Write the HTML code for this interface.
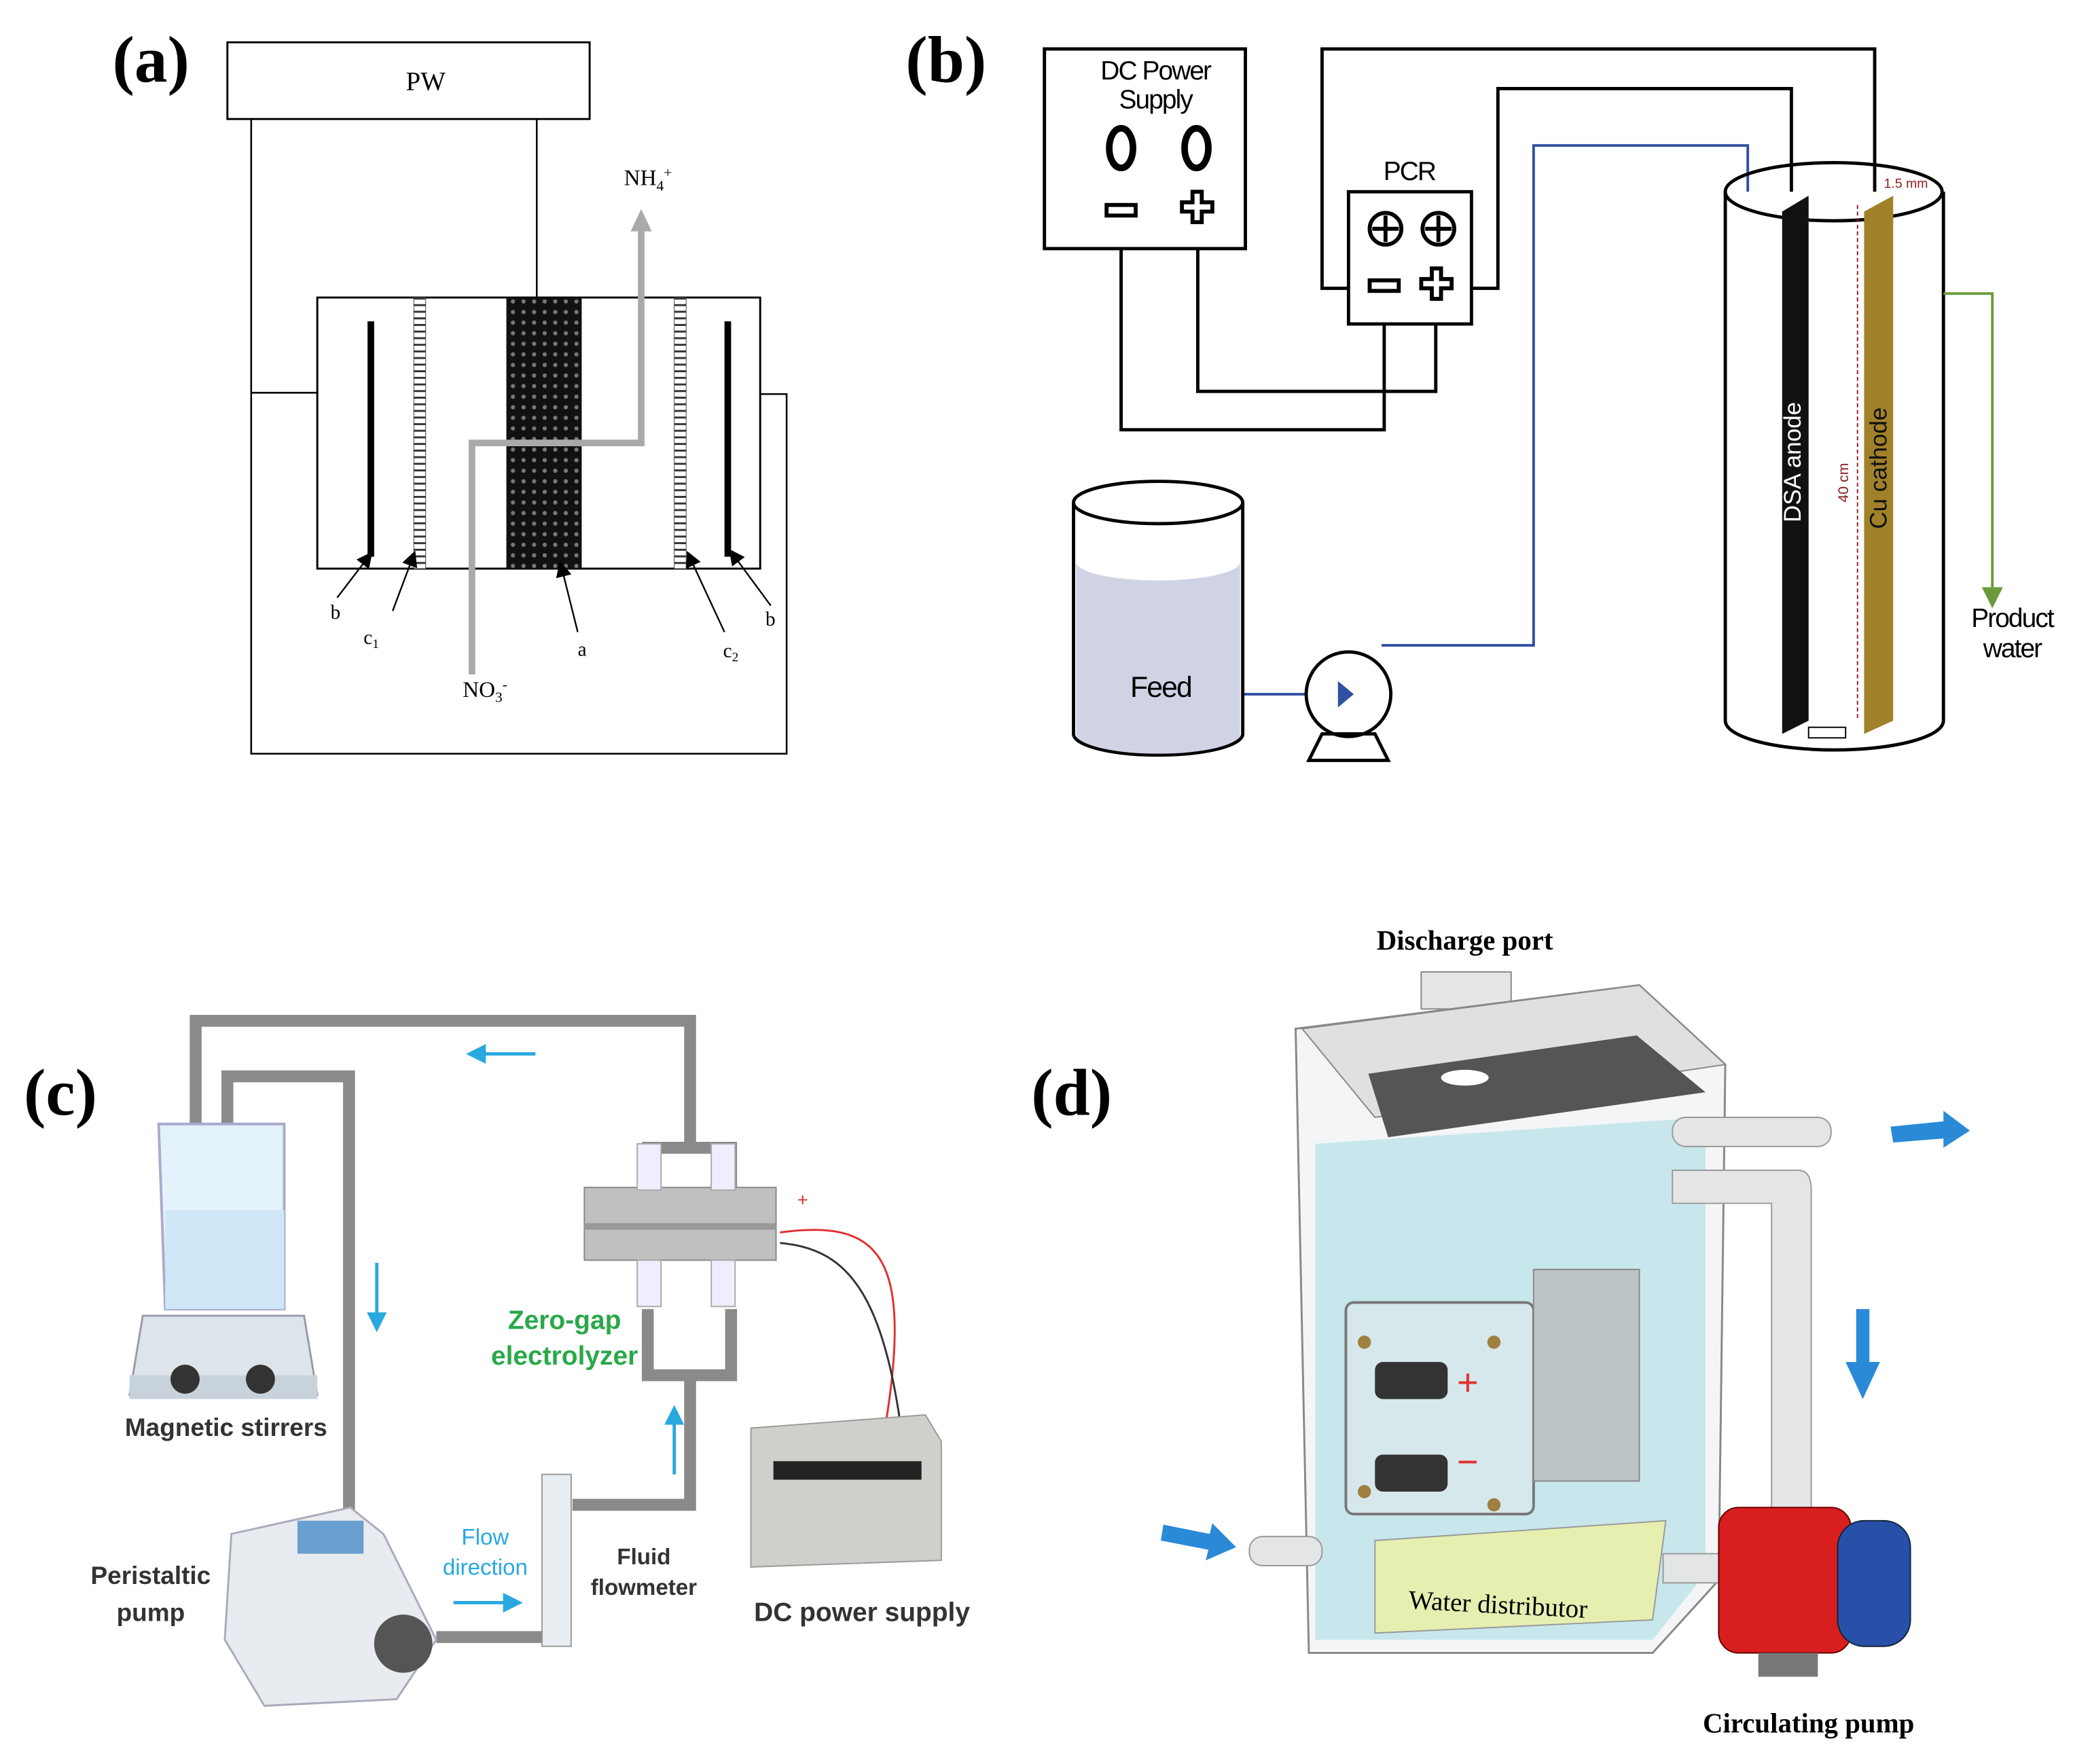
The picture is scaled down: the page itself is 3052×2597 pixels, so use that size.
<!DOCTYPE html>
<html><head><meta charset="utf-8"><style>
html,body{margin:0;padding:0;background:#fff;}
svg{display:block;}
</style></head><body>
<svg width="3052" height="2597" viewBox="0 0 1568 1334" preserveAspectRatio="none" xmlns="http://www.w3.org/2000/svg" font-family="Liberation Sans, sans-serif">
<defs>
<pattern id="hex" width="8" height="8" patternUnits="userSpaceOnUse"><rect width="8" height="8" fill="#111"/><circle cx="4" cy="4" r="1.6" fill="#777"/></pattern>
<pattern id="strip" width="4" height="5" patternUnits="userSpaceOnUse"><rect width="4" height="5" fill="#fff"/><rect y="0" width="4" height="1.5" fill="#333"/></pattern>
<marker id="ah" markerWidth="10" markerHeight="10" refX="5" refY="5" orient="auto"><path d="M0,0 L10,5 L0,10 z" fill="#000"/></marker>
<marker id="ahb" markerWidth="8" markerHeight="8" refX="4" refY="4" orient="auto"><path d="M0,0 L8,4 L0,8 z" fill="#3050a0"/></marker>
<marker id="ahg" markerWidth="8" markerHeight="8" refX="4" refY="4" orient="auto"><path d="M0,0 L8,4 L0,8 z" fill="#6a9a3a"/></marker>
<marker id="ahc" markerWidth="6" markerHeight="6" refX="3" refY="3" orient="auto"><path d="M0,0 L6,3 L0,6 z" fill="#29a8e0"/></marker>
</defs>

<!-- Panel a -->
<text x="85" y="62" font-family="Liberation Serif, serif" font-weight="bold" font-size="50">(a)</text>
<rect x="172" y="32" width="274" height="58" fill="#fff" stroke="#000" stroke-width="1.5"/>
<text x="322" y="68" font-family="Liberation Serif, serif" font-size="20" text-anchor="middle">PW</text>
<polyline points="190,90 190,570 595,570 595,298 560,298" fill="none" stroke="#000" stroke-width="1.3"/>
<line x1="190" y1="297" x2="270" y2="297" stroke="#000" stroke-width="1.3"/>
<line x1="406" y1="90" x2="406" y2="225" stroke="#000" stroke-width="1.3"/>
<rect x="240" y="225" width="335" height="205" fill="#fff" stroke="#000" stroke-width="1.5"/>
<rect x="383" y="225" width="57" height="205" fill="url(#hex)"/>
<rect x="313" y="225" width="9" height="205" fill="url(#strip)" stroke="#444" stroke-width="0.5"/>
<rect x="510" y="225" width="9" height="205" fill="url(#strip)" stroke="#444" stroke-width="0.5"/>
<rect x="278" y="243" width="5" height="178" fill="#000"/>
<rect x="548" y="243" width="5" height="178" fill="#000"/>
<polyline points="357,510 357,335 485,335 485,170" fill="none" stroke="#aaa" stroke-width="5"/>
<path d="M477,175 L485,158 L493,175 z" fill="#aaa"/>
<text x="472" y="140" font-family="Liberation Serif, serif" font-size="17">NH<tspan font-size="11" dy="4">4</tspan><tspan font-size="11" dy="-10">+</tspan></text>
<text x="350" y="527" font-family="Liberation Serif, serif" font-size="17">NO<tspan font-size="11" dy="4">3</tspan><tspan font-size="11" dy="-10">-</tspan></text>
<g stroke="#000" stroke-width="1.2" fill="none">
<line x1="255" y1="452" x2="278" y2="422" marker-end="url(#ah)"/>
<line x1="297" y1="462" x2="312" y2="422" marker-end="url(#ah)"/>
<line x1="437" y1="478" x2="425" y2="430" marker-end="url(#ah)"/>
<line x1="548" y1="478" x2="522" y2="422" marker-end="url(#ah)"/>
<line x1="583" y1="458" x2="555" y2="420" marker-end="url(#ah)"/>
</g>
<g font-family="Liberation Serif, serif" font-size="15">
<text x="250" y="468">b</text><text x="275" y="487">c<tspan font-size="10" dy="3">1</tspan></text>
<text x="437" y="496">a</text><text x="547" y="497">c<tspan font-size="10" dy="3">2</tspan></text><text x="579" y="473">b</text>
</g>

<!-- Panel b -->
<text x="685" y="62" font-family="Liberation Serif, serif" font-weight="bold" font-size="50">(b)</text>
<rect x="790" y="37" width="152" height="151" fill="#fff" stroke="#000" stroke-width="2.5"/>
<text x="874" y="60" font-size="20" text-anchor="middle" letter-spacing="-1">DC Power</text>
<text x="874" y="82" font-size="20" text-anchor="middle" letter-spacing="-1">Supply</text>
<ellipse cx="848" cy="112" rx="9" ry="15" fill="none" stroke="#000" stroke-width="5"/>
<ellipse cx="905" cy="112" rx="9" ry="15" fill="none" stroke="#000" stroke-width="5"/>
<rect x="837" y="155" width="22" height="8" fill="none" stroke="#000" stroke-width="3"/>
<path d="M902,145 h7 v8 h8 v7 h-8 v8 h-7 v-8 h-8 v-7 h8 z" fill="none" stroke="#000" stroke-width="3"/>
<rect x="1020" y="145" width="93" height="100" fill="#fff" stroke="#000" stroke-width="2.5"/>
<text x="1066" y="136" font-size="20" text-anchor="middle" letter-spacing="-1">PCR</text>
<circle cx="1048" cy="173" r="12" fill="none" stroke="#000" stroke-width="3"/><path d="M1048,163v20M1038,173h20" stroke="#000" stroke-width="3"/>
<circle cx="1088" cy="173" r="12" fill="none" stroke="#000" stroke-width="3"/><path d="M1088,163v20M1078,173h20" stroke="#000" stroke-width="3"/>
<rect x="1036" y="212" width="22" height="8" fill="none" stroke="#000" stroke-width="3"/>
<path d="M1083,203 h7 v8 h8 v7 h-8 v8 h-7 v-8 h-8 v-7 h8 z" fill="none" stroke="#000" stroke-width="3"/>
<g fill="none" stroke="#000" stroke-width="2.5">
<polyline points="848,188 848,325 1047,325 1047,245"/>
<polyline points="906,188 906,296 1086,296 1086,245"/>
<polyline points="1020,218 1000,218 1000,37 1418,37 1418,150"/>
<polyline points="1113,218 1133,218 1133,67 1355,67 1355,150"/>
</g>
<polyline points="1045,488 1160,488 1160,110 1322,110 1322,532" fill="none" stroke="#3050a0" stroke-width="2" marker-end="url(#ahb)"/>
<line x1="940" y1="525" x2="1010" y2="525" stroke="#3050a0" stroke-width="2"/>
<!-- tank -->
<path d="M1305,145 L1305,545 A82,22 0 0 0 1470,545 L1470,145" fill="#fff" stroke="#000" stroke-width="2.5"/>
<ellipse cx="1387" cy="145" rx="82" ry="22" fill="none" stroke="#000" stroke-width="2.5"/>
<path d="M1348,160 L1368,148 L1368,545 L1348,555 z" fill="#111"/>
<path d="M1410,160 L1432,148 L1432,545 L1410,555 z" fill="#a0812a"/>
<text transform="translate(1362,395) rotate(-90)" font-size="18" fill="#fff">DSA anode</text>
<text transform="translate(1427,400) rotate(-90)" font-size="18" fill="#111">Cu cathode</text>
<text transform="translate(1398,380) rotate(-90)" font-size="11" fill="#8a2020">40 cm</text>
<line x1="1405" y1="155" x2="1405" y2="545" stroke="#8a2020" stroke-dasharray="3,2"/>
<text x="1425" y="142" font-size="10" fill="#8a2020">1.5 mm</text>
<rect x="1368" y="550" width="28" height="8" fill="#fff" stroke="#000"/>
<polyline points="1470,222 1507,222 1507,452" fill="none" stroke="#6a9a3a" stroke-width="2" marker-end="url(#ahg)"/>
<text x="1522" y="474" font-size="20" text-anchor="middle" letter-spacing="-1">Product</text>
<text x="1522" y="497" font-size="20" text-anchor="middle" letter-spacing="-1">water</text>
<!-- feed -->
<path d="M812,380 L812,555 A64,16 0 0 0 940,555 L940,380" fill="#fff" stroke="#000" stroke-width="2.5"/>
<path d="M814,425 A62,14 0 0 0 938,425 L938,555 A62,15 0 0 1 814,555 z" fill="#cfd3e4"/>
<ellipse cx="876" cy="380" rx="64" ry="16" fill="none" stroke="#000" stroke-width="2.5"/>
<text x="878" y="527" font-size="22" text-anchor="middle" letter-spacing="-1">Feed</text>
<circle cx="1020" cy="525" r="32" fill="#fff" stroke="#000" stroke-width="2.5"/>
<path d="M1012,515 L1024,525 L1012,535 z" fill="#3050a0"/>
<path d="M990,575 L1000,555 L1040,555 L1050,575 z" fill="none" stroke="#000" stroke-width="2.5"/>

<!-- Panel c -->
<text x="18" y="843" font-family="Liberation Serif, serif" font-weight="bold" font-size="50">(c)</text>
<g fill="none" stroke="#8a8a8a" stroke-width="9">
<polyline points="148,900 148,772 522,772 522,865"/>
<polyline points="172,940 172,814 264,814 264,1225"/>
<polyline points="490,915 490,868 553,868 553,915"/>
<polyline points="490,990 490,1040 553,1040 553,990"/>
<polyline points="522,1040 522,1138 433,1138"/>
<polyline points="330,1238 410,1238"/>
</g>
<line x1="405" y1="797" x2="360" y2="797" stroke="#29a8e0" stroke-width="2.5" marker-end="url(#ahc)"/>
<line x1="285" y1="955" x2="285" y2="1000" stroke="#29a8e0" stroke-width="2.5" marker-end="url(#ahc)"/>
<line x1="510" y1="1115" x2="510" y2="1070" stroke="#29a8e0" stroke-width="2.5" marker-end="url(#ahc)"/>
<line x1="343" y1="1212" x2="388" y2="1212" stroke="#29a8e0" stroke-width="2.5" marker-end="url(#ahc)"/>
<!-- beaker & stirrer -->
<path d="M120,850 L215,850 L215,990 L125,990 z" fill="#e4f2fb" stroke="#aac" stroke-width="2"/>
<rect x="125" y="915" width="90" height="75" fill="#cfe7f7"/>
<path d="M108,995 L230,995 L240,1055 L98,1055 z" fill="#dde4ea" stroke="#99a" stroke-width="1.5"/>
<rect x="98" y="1040" width="142" height="18" fill="#c8d2db"/>
<circle cx="140" cy="1043" r="11" fill="#333"/><circle cx="197" cy="1043" r="11" fill="#333"/>
<text x="171" y="1086" font-size="19" font-weight="bold" fill="#333" text-anchor="middle">Magnetic stirrers</text>
<!-- electrolyzer -->
<rect x="442" y="898" width="145" height="55" fill="#c0c0c0" stroke="#888"/>
<rect x="442" y="925" width="145" height="5" fill="#999"/>
<rect x="482" y="865" width="18" height="35" fill="#eef" stroke="#aaa"/><rect x="538" y="865" width="18" height="35" fill="#eef" stroke="#aaa"/>
<rect x="482" y="953" width="18" height="35" fill="#eef" stroke="#aaa"/><rect x="538" y="953" width="18" height="35" fill="#eef" stroke="#aaa"/>
<path d="M590,932 C680,920 700,960 650,1175" fill="none" stroke="#e03030" stroke-width="1.5"/>
<path d="M590,940 C650,945 680,990 690,1175" fill="none" stroke="#333" stroke-width="1.5"/>
<text x="603" y="912" font-size="14" fill="#e03030">+</text>
<text x="427" y="1005" font-size="20" font-weight="bold" fill="#2aa84a" text-anchor="middle">Zero-gap</text>
<text x="427" y="1032" font-size="20" font-weight="bold" fill="#2aa84a" text-anchor="middle">electrolyzer</text>
<!-- DC supply -->
<path d="M568,1080 L700,1070 L712,1090 L712,1180 L568,1185 z" fill="#cfd0cc" stroke="#999"/>
<rect x="585" y="1105" width="112" height="14" fill="#222"/>
<text x="652" y="1226" font-size="20" font-weight="bold" fill="#333" text-anchor="middle">DC power supply</text>
<!-- flowmeter -->
<rect x="410" y="1115" width="22" height="130" fill="#e8eef2" stroke="#999"/>
<text x="487" y="1183" font-size="17" font-weight="bold" fill="#333" text-anchor="middle">Fluid</text>
<text x="487" y="1206" font-size="17" font-weight="bold" fill="#333" text-anchor="middle">flowmeter</text>
<text x="367" y="1168" font-size="17" fill="#29a8e0" text-anchor="middle">Flow</text>
<text x="367" y="1191" font-size="17" fill="#29a8e0" text-anchor="middle">direction</text>
<!-- pump -->
<path d="M175,1160 L265,1140 L290,1160 L330,1240 L300,1285 L200,1290 L170,1240 z" fill="#e8ebef" stroke="#aab" stroke-width="1.5"/>
<rect x="225" y="1150" width="50" height="25" fill="#6aa0d0"/>
<circle cx="305" cy="1243" r="22" fill="#555"/>
<text x="114" y="1198" font-size="19" font-weight="bold" fill="#333" text-anchor="middle">Peristaltic</text>
<text x="114" y="1226" font-size="19" font-weight="bold" fill="#333" text-anchor="middle">pump</text>

<!-- Panel d -->
<text x="780" y="843" font-family="Liberation Serif, serif" font-weight="bold" font-size="50">(d)</text>
<text x="1108" y="718" font-family="Liberation Serif, serif" font-weight="bold" font-size="21" text-anchor="middle">Discharge port</text>
<rect x="1075" y="735" width="68" height="28" fill="#e6e6e6" stroke="#888"/>
<!-- box -->
<path d="M980,778 L1240,745 L1305,805 L1300,1195 L1250,1250 L990,1250 z" fill="#f3f5f6" stroke="#888" stroke-width="1.5"/>
<path d="M985,778 L1240,745 L1305,805 L1040,845 z" fill="#e0e0e0" stroke="#888"/>
<path d="M1035,812 L1238,783 L1290,826 L1050,860 z" fill="#555"/>
<ellipse cx="1108" cy="815" rx="18" ry="6" fill="#fff"/>
<path d="M995,865 L1290,845 L1290,1190 L1250,1240 L995,1240 z" fill="#bfe4ea" opacity="0.85"/>
<path d="M1040,1165 L1260,1150 L1250,1225 L1040,1235 z" fill="#e6efb0" stroke="#999"/>
<text x="1133" y="1220" font-family="Liberation Serif, serif" font-size="20" text-anchor="middle" transform="rotate(3 1133 1215)">Water distributor</text>
<rect x="1018" y="985" width="142" height="160" rx="6" fill="#d6e8ec" stroke="#777" stroke-width="2"/>
<rect x="1160" y="960" width="80" height="160" fill="#bcc4c6" stroke="#888"/>
<rect x="1040" y="1030" width="55" height="28" rx="6" fill="#333"/>
<rect x="1040" y="1100" width="55" height="28" rx="6" fill="#333"/>
<text x="1102" y="1055" font-size="28" fill="#e03030">+</text>
<text x="1102" y="1115" font-size="28" fill="#e03030">−</text>
<circle cx="1032" cy="1015" r="5" fill="#a08040"/><circle cx="1130" cy="1015" r="5" fill="#a08040"/>
<circle cx="1032" cy="1128" r="5" fill="#a08040"/><circle cx="1130" cy="1138" r="5" fill="#a08040"/>
<!-- pipes -->
<rect x="1265" y="845" width="120" height="22" rx="10" fill="#e4e6e6" stroke="#999"/>
<path d="M1265,885 L1360,885 Q1370,885 1370,900 L1370,1150 L1340,1150 L1340,910 L1265,910 z" fill="#e4e6e6" stroke="#999"/>
<rect x="945" y="1162" width="55" height="22" rx="10" fill="#e4e6e6" stroke="#999"/>
<rect x="1258" y="1175" width="50" height="22" fill="#e4e6e6" stroke="#999"/>
<!-- pump -->
<rect x="1300" y="1140" width="100" height="110" rx="15" fill="#d81e1e" stroke="#600"/>
<rect x="1390" y="1150" width="55" height="95" rx="20" fill="#2850a8" stroke="#123"/>
<rect x="1330" y="1250" width="45" height="18" fill="#777"/>
<text x="1368" y="1310" font-family="Liberation Serif, serif" font-weight="bold" font-size="21" text-anchor="middle">Circulating pump</text>
<!-- blue arrows -->
<path d="M1430,852 L1470,848 L1470,840 L1490,855 L1470,868 L1470,861 L1432,864 z" fill="#2a8ad8"/>
<path d="M1404,990 L1414,990 L1414,1030 L1422,1030 L1409,1058 L1396,1030 L1404,1030 z" fill="#2a8ad8"/>
<path d="M880,1153 L915,1160 L917,1152 L935,1170 L912,1180 L914,1172 L878,1165 z" fill="#2a8ad8"/>
</svg>
</body></html>
